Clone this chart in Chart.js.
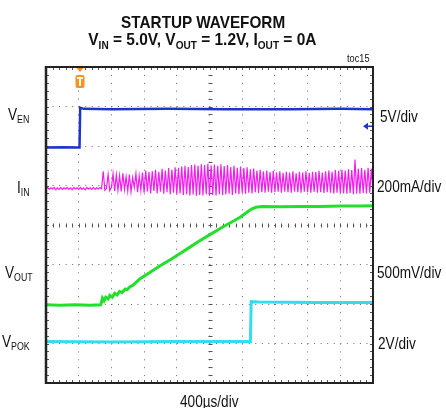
<!DOCTYPE html>
<html><head><meta charset="utf-8">
<script src="https://cdn.jsdelivr.net/npm/chart.js@4.4.0/dist/chart.umd.min.js"></script>
<style>
html,body{margin:0;padding:0;background:#fff;}
#wrap{position:relative;width:446px;height:408px;overflow:hidden;font-family:"Liberation Sans",Arial,Helvetica,sans-serif;color:#111;}
#c{position:absolute;left:0;top:0;}
.t{position:absolute;white-space:nowrap;line-height:1;font-size:16px;}
.t span.s{display:inline-block;transform-origin:0 0;}
.t sub{font-size:0.65em;vertical-align:baseline;position:relative;top:0.32em;}
</style></head><body>
<div id="wrap">
<canvas id="c" width="446" height="408"></canvas>
<div class="t" style="left:0;width:406px;text-align:center;top:13.6px;font-size:17px;font-weight:bold;"><span class="s" style="transform:scaleX(0.9);transform-origin:50% 0;">STARTUP WAVEFORM</span></div>
<div class="t" style="left:0;width:405px;text-align:center;top:31.3px;font-size:17px;font-weight:bold;"><span class="s" style="transform:scaleX(0.91);transform-origin:50% 0;">V<sub>IN</sub> = 5.0V, V<sub>OUT</sub> = 1.2V, I<sub>OUT</sub> = 0A</span></div>
<div class="t" style="left:347px;top:53.5px;font-size:10px;"><span class="s" style="transform:scaleX(0.92);">toc15</span></div>

<div class="t" style="left:8px;top:106.5px;"><span class="s" style="transform:scaleX(0.85);">V<sub>EN</sub></span></div>
<div class="t" style="left:17px;top:179.5px;"><span class="s" style="transform:scaleX(0.85);">I<sub>IN</sub></span></div>
<div class="t" style="left:5px;top:264.5px;"><span class="s" style="transform:scaleX(0.85);">V<sub>OUT</sub></span></div>
<div class="t" style="left:2px;top:333.5px;"><span class="s" style="transform:scaleX(0.85);">V<sub>POK</sub></span></div>

<div class="t" style="left:380px;top:108.5px;"><span class="s" style="transform:scaleX(0.85);">5V/div</span></div>
<div class="t" style="left:377px;top:178.5px;"><span class="s" style="transform:scaleX(0.85);">200mA/div</span></div>
<div class="t" style="left:377px;top:264.5px;"><span class="s" style="transform:scaleX(0.85);">500mV/div</span></div>
<div class="t" style="left:378px;top:335.5px;"><span class="s" style="transform:scaleX(0.85);">2V/div</span></div>

<div class="t" style="left:180px;top:393.5px;"><span class="s" style="transform:scaleX(0.85);">400µs/div</span></div>
</div>
<script>
// ---- time base (µs) and screen grid ----
const xTicks = [0,400,800,1200,1600,2000,2400,2800,3200,3600,4000];   // 400 µs/div
const yTicks = [0,1,2,3,4,5,6,7,8];                                    // screen divisions
const triggerTimeUs = 416;

// ---- VEN (blue), screen divisions ----
const venTime = [0,200,410,418,460,800,1500,2200,3000,3600,4000];
const venDiv  = [5.96,5.97,5.96,6.97,6.94,6.93,6.94,6.93,6.93,6.94,6.93];

// ---- IIN (magenta), sampled every 20 µs from t = 0 ----
const iinStepUs = 20;
const iinDiv = [
4.90,4.95,4.90,4.94,4.91,4.95,4.89,4.94,4.90,4.95,
4.90,4.94,4.91,4.95,4.90,4.94,4.89,4.95,4.91,4.94,
4.90,4.95,4.90,4.94,4.89,4.95,4.91,4.94,4.90,4.95,
4.90,4.94,4.91,4.95,4.92,5.36,4.88,4.93,5.28,4.87,
4.95,5.30,4.86,5.27,4.88,5.25,4.85,5.31,4.90,5.22,
4.86,5.28,4.84,5.20,4.95,5.30,4.83,5.25,4.88,5.33,
4.82,5.38,4.85,5.34,4.80,5.36,4.86,5.40,4.80,5.35,
4.84,5.42,4.79,5.38,4.83,5.44,4.78,5.40,4.82,5.46,
4.77,5.45,4.80,5.48,4.76,5.50,4.78,5.47,4.75,5.52,
4.77,5.53,4.74,5.50,4.76,5.54,4.75,5.52,4.78,5.55,
4.74,5.51,4.76,5.53,4.75,5.50,4.78,5.54,4.76,5.49,
4.77,5.52,4.79,5.47,4.76,5.50,4.80,5.45,4.78,5.48,
4.81,5.44,4.79,5.46,4.82,5.41,4.80,5.43,4.83,5.38,
4.81,5.40,4.83,5.36,4.82,5.38,4.84,5.34,4.82,5.37,
4.83,5.33,4.84,5.36,4.82,5.32,4.84,5.35,4.83,5.33,
4.82,5.36,4.84,5.31,4.83,5.35,4.82,5.33,4.84,5.36,
4.83,5.32,4.82,5.35,4.84,5.34,4.82,5.37,4.83,5.33,
4.81,5.36,4.83,5.38,4.82,5.35,4.80,5.39,4.82,5.37,
4.81,5.40,4.80,5.38,4.79,5.41,4.81,5.39,4.78,5.66,
4.80,5.42,4.79,5.44,4.81,5.40,4.80,5.45,4.82,5.42,
4.85];

// ---- VOUT (green), screen divisions ----
const voutTime = [0,170,360,540,670,690,710,730,760,780,810,840,870,900,930,970,990,1030,1060,1150,1270,1390,1520,1640,1760,1880,2000,2130,2250,2370,2470,2520,2570,2640,2860,3110,3350,3600,3840,4000];
const voutDiv  = [1.98,1.97,1.98,1.97,1.98,2.15,2.08,2.17,2.13,2.22,2.17,2.27,2.23,2.32,2.29,2.38,2.36,2.44,2.47,2.64,2.80,2.96,3.12,3.28,3.44,3.60,3.75,3.91,4.05,4.19,4.34,4.41,4.45,4.47,4.46,4.47,4.47,4.48,4.48,4.49];

// ---- VPOK (cyan), screen divisions ----
const pokTime = [0,800,1600,2500,2510,2600,3300,4000];
const pokDiv  = [1.05,1.04,1.05,1.05,2.06,2.05,2.04,2.04];

const venMarkerDiv = 6.5;

const pts = (xs, ys) => ys.map((v,i)=>({x:xs[i], y:v}));
const iinPts = iinDiv.map((v,i)=>({x:i*iinStepUs, y:v}));

const scopeDecor = {
  id:'scopeDecor',
  beforeDatasetsDraw(chart){
    const {ctx, chartArea:a, scales:{x,y}} = chart;
    ctx.save();
    ctx.strokeStyle='#555'; ctx.lineWidth=1;
    const cx = Math.round(x.getPixelForValue(2000))+0.5;
    const cy = Math.round(y.getPixelForValue(4))+0.5;
    ctx.beginPath();
    for(let t=0;t<=4000;t+=80){
      const px = Math.round(x.getPixelForValue(t))+0.5;
      ctx.moveTo(px,a.top); ctx.lineTo(px,a.top+3);
      ctx.moveTo(px,a.bottom-3); ctx.lineTo(px,a.bottom);
      ctx.moveTo(px,cy-2); ctx.lineTo(px,cy+2);
    }
    for(let k=0;k<=40;k++){
      const py = Math.round(y.getPixelForValue(k*0.2))+0.5;
      ctx.moveTo(a.left,py); ctx.lineTo(a.left+3,py);
      ctx.moveTo(a.right-3,py); ctx.lineTo(a.right,py);
      ctx.moveTo(cx-2,py); ctx.lineTo(cx+2,py);
    }
    ctx.stroke();
    ctx.restore();
  },
  afterDatasetsDraw(chart){
    const {ctx, chartArea:a, scales:{x,y}} = chart;
    ctx.save();
    ctx.strokeStyle='#222';
    ctx.lineWidth=2.5;
    ctx.beginPath(); ctx.moveTo(a.left,a.top-1); ctx.lineTo(a.left,a.bottom+1); ctx.stroke();
    ctx.lineWidth=2;
    ctx.beginPath(); ctx.moveTo(a.left,a.top); ctx.lineTo(a.right,a.top); ctx.lineTo(a.right,a.bottom); ctx.lineTo(a.left,a.bottom); ctx.stroke();
    // trigger marker
    const tx = x.getPixelForValue(triggerTimeUs);
    ctx.fillStyle='#f7921e';
    ctx.beginPath(); ctx.moveTo(tx-3.5,a.top+1); ctx.lineTo(tx+3.5,a.top+1); ctx.lineTo(tx,a.top+5); ctx.closePath(); ctx.fill();
    const bx=tx-4.5, by=a.top+8, bw=9, bh=13, r=2;
    ctx.beginPath();
    ctx.moveTo(bx+r,by); ctx.lineTo(bx+bw-r,by); ctx.quadraticCurveTo(bx+bw,by,bx+bw,by+r);
    ctx.lineTo(bx+bw,by+bh-r); ctx.quadraticCurveTo(bx+bw,by+bh,bx+bw-r,by+bh);
    ctx.lineTo(bx+r,by+bh); ctx.quadraticCurveTo(bx,by+bh,bx,by+bh-r);
    ctx.lineTo(bx,by+r); ctx.quadraticCurveTo(bx,by,bx+r,by); ctx.fill();
    ctx.fillStyle='#fff';
    ctx.fillRect(bx+1.5,by+2,bw-3,2);
    ctx.fillRect(tx-1,by+2,2,bh-4);
    // VEN offset arrow at right edge
    const ay = y.getPixelForValue(venMarkerDiv);
    ctx.fillStyle='#1f35c8'; ctx.strokeStyle='#1f35c8'; ctx.lineWidth=1.5;
    ctx.beginPath(); ctx.moveTo(a.right-10,ay); ctx.lineTo(a.right-5,ay-3.5); ctx.lineTo(a.right-5,ay+3.5); ctx.closePath(); ctx.fill();
    ctx.beginPath(); ctx.moveTo(a.right-6,ay); ctx.lineTo(a.right-1,ay); ctx.stroke();
    ctx.restore();
  }
};

new Chart(document.getElementById('c'), {
  type:'scatter',
  data:{datasets:[
    {label:'IIN', data:iinPts, showLine:true, borderColor:'#f21ef0', borderWidth:1.2, pointRadius:0, tension:0},
    {label:'VEN', data:pts(venTime,venDiv), showLine:true, borderColor:'#1f35c8', borderWidth:2.5, pointRadius:0},
    {label:'VOUT', data:pts(voutTime,voutDiv), showLine:true, borderColor:'#22e02a', borderWidth:3, pointRadius:0},
    {label:'VPOK', data:pts(pokTime,pokDiv), showLine:true, borderColor:'#33dcef', borderWidth:3, pointRadius:0}
  ]},
  options:{
    responsive:false, animation:false,
    layout:{padding:{left:46,top:67,right:73,bottom:25}},
    plugins:{legend:{display:false}, tooltip:{enabled:false}, title:{display:false}},
    scales:{
      x:{type:'linear', min:0, max:4000,
         afterBuildTicks:s=>{s.ticks = xTicks.map(v=>({value:v}));},
         ticks:{display:false},
         grid:{color:'#6a6a6a', lineWidth:1, drawTicks:false, borderDash:[1,6.9]},
         border:{display:false, dash:[1,6.9]}},
      y:{type:'linear', min:0, max:8,
         afterBuildTicks:s=>{s.ticks = yTicks.map(v=>({value:v}));},
         ticks:{display:false},
         grid:{color:'#6a6a6a', lineWidth:1, drawTicks:false, borderDash:[1,5.54]},
         border:{display:false, dash:[1,5.54]}}
    }
  },
  plugins:[scopeDecor]
});
</script>
</body></html>
